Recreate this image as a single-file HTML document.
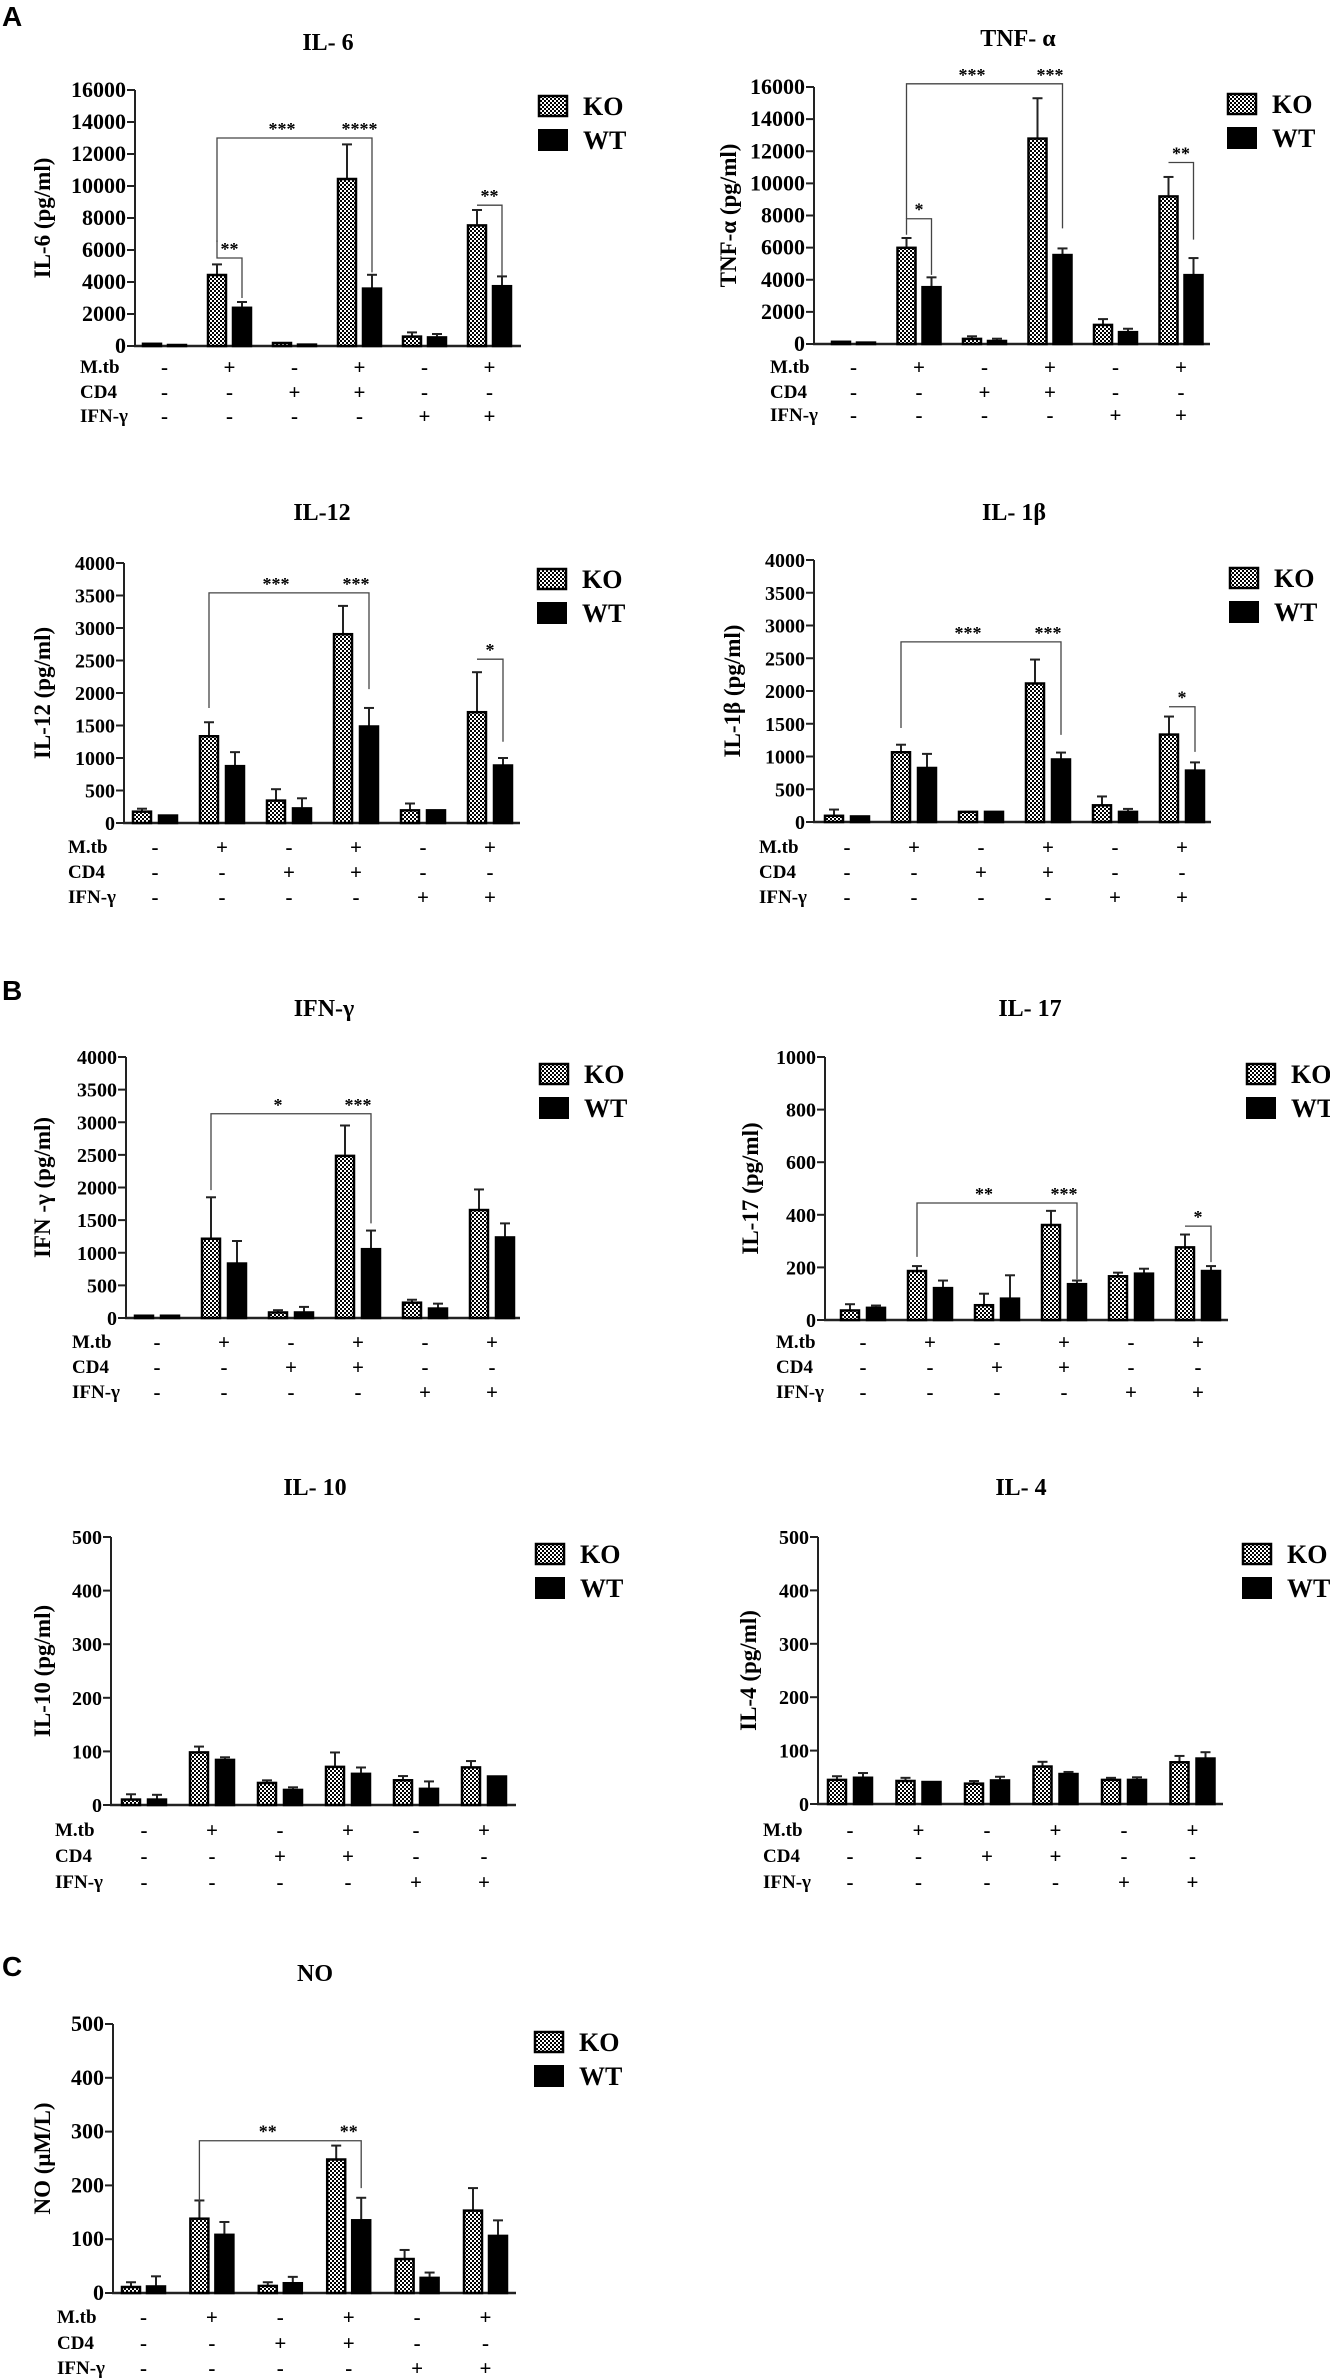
<!DOCTYPE html>
<html><head><meta charset="utf-8">
<style>
html,body{margin:0;padding:0;background:#fff;}
svg{display:block;}
text{font-family:"Liberation Serif",serif;font-weight:bold;fill:#000;}
.lt{font-family:"Liberation Sans",sans-serif;}
</style></head>
<body>
<svg id="fig" width="1330" height="2380" viewBox="0 0 1330 2380" xmlns="http://www.w3.org/2000/svg">
<defs>
<pattern id="chk" width="4" height="4" patternUnits="userSpaceOnUse">
<rect width="4" height="4" fill="#fff"/><rect width="2" height="2" fill="#000"/><rect x="2" y="2" width="2" height="2" fill="#000"/>
</pattern>
</defs>
<text class="lt" x="2" y="26" font-size="28">A</text>
<text class="lt" x="2" y="1000" font-size="28">B</text>
<text class="lt" x="2" y="1976" font-size="28">C</text>
</svg>
<script>
// ---- data ----
const groups = ["g1","g2","g3","g4","g5","g6"];
const mtbRow = ["-","+","-","+","-","+"];
const cd4Row = ["-","-","+","+","-","-"];
const ifnRow = ["-","-","-","-","+","+"];

const il6Ticks = [0,2000,4000,6000,8000,10000,12000,14000,16000];
const il6KO = [200,4500,250,10500,650,7600];
const il6KOErr = [0,600,0,2100,200,900];
const il6WT = [120,2450,150,3650,600,3800];
const il6WTErr = [0,300,0,800,150,550];
const il6Sig = [[1,0,1,1,5500,6600,3000,"**"],[1,0,3,0,13000,6500,13000,"***"],[3,0,3,1,13000,13000,4600,"****"],[5,0,5,1,8800,8800,4400,"**"]];

const tnfTicks = [0,2000,4000,6000,8000,10000,12000,14000,16000];
const tnfKO = [200,6050,380,12850,1250,9250];
const tnfKOErr = [0,550,100,2450,300,1150];
const tnfWT = [150,3600,250,5600,800,4350];
const tnfWTErr = [0,550,80,350,150,1000];
const tnfSig = [[1,0,1,1,7800,6800,4300,"*"],[1,0,3,0,16200,7800,16200,"***"],[3,0,3,1,16200,16200,7200,"***"],[5,0,5,1,11300,11300,6500,"**"]];

const il12Ticks = [0,500,1000,1500,2000,2500,3000,3500,4000];
const il12KO = [190,1350,360,2920,210,1720];
const il12KOErr = [30,200,160,420,90,600];
const il12WT = [130,890,240,1500,210,900];
const il12WTErr = [0,200,140,270,0,100];
const il12Sig = [[1,0,3,0,3540,1770,3540,"***"],[3,0,3,1,3540,3540,2060,"***"],[5,0,5,1,2520,2520,1250,"*"]];

const il1bTicks = [0,500,1000,1500,2000,2500,3000,3500,4000];
const il1bKO = [110,1080,170,2130,270,1350];
const il1bKOErr = [80,100,0,350,120,260];
const il1bWT = [100,840,170,970,170,800];
const il1bWTErr = [0,200,0,90,30,110];
const il1bSig = [[1,0,3,0,2750,1435,2750,"***"],[3,0,3,1,2750,2750,1330,"***"],[5,0,5,1,1760,1760,1070,"*"]];

const ifngTicks = [0,500,1000,1500,2000,2500,3000,3500,4000];
const ifngKO = [50,1230,100,2500,250,1670];
const ifngKOErr = [0,620,20,450,30,300];
const ifngWT = [50,850,100,1070,160,1250];
const ifngWTErr = [0,330,70,270,60,200];
const ifngSig = [[1,0,3,0,3130,1960,3130,"*"],[3,0,3,1,3130,3130,1450,"***"]];

const il17Ticks = [0,200,400,600,800,1000];
const il17KO = [40,190,60,365,170,280];
const il17KOErr = [20,15,40,50,10,45];
const il17WT = [50,125,85,140,180,190];
const il17WTErr = [5,25,85,10,15,15];
const il17Sig = [[1,0,3,0,445,240,445,"**"],[3,0,3,1,445,445,155,"***"],[5,0,5,1,357,357,220,"*"]];

const il10Ticks = [0,100,200,300,400,500];
const il10KO = [12,100,43,73,48,72];
const il10KOErr = [8,9,3,25,6,10];
const il10WT = [12,86,30,60,32,55];
const il10WTErr = [7,3,3,10,12,0];
const il10Sig = [];

const il4Ticks = [0,100,200,300,400,500];
const il4KO = [47,45,40,72,47,80];
const il4KOErr = [5,4,3,7,2,10];
const il4WT = [51,43,46,58,47,87];
const il4WTErr = [7,0,5,2,3,10];
const il4Sig = [];

const noTicks = [0,100,200,300,400,500];
const noKO = [13,140,15,250,65,155];
const noKOErr = [7,32,5,24,15,40];
const noWT = [14,110,20,137,30,108];
const noWTErr = [17,22,10,40,8,27];
const noSig = [[1,0,3,0,283,170,283,"**"],[3,0,3,1,283,283,195,"**"]];

// ---- layout ----
const svg = document.getElementById('fig');
const NS = "http://www.w3.org/2000/svg";
function mk(tag, attrs){ const e=document.createElementNS(NS,tag); for(const k in attrs) e.setAttribute(k,attrs[k]); svg.appendChild(e); return e; }

function panel(p){
  const top=p.top, zero=p.zero, max=p.ticks[p.ticks.length-1];
  const Y = v => zero - v/max*(zero-top);
  const X = (g,s) => p.ko0 + g*p.sp + s*p.wo;
  const t = mk('text',{x:p.tx,y:p.ty,'font-size':24,'text-anchor':'middle'});
  t.textContent = p.title;
  
  
  const yl = mk('text',{x:0,y:0,'font-size':p.yf||23,'text-anchor':'middle',transform:`translate(${p.ylx},${(top+zero)/2}) rotate(-90)`});
  yl.textContent = p.ylabel;
  
  
  const ya = mk('line',{x1:p.ax,y1:top,x2:p.ax,y2:zero+1,stroke:'#222','stroke-width':2});
  
  
  const xa = mk('line',{x1:p.ax-1,y1:zero,x2:p.end,y2:zero,stroke:'#222','stroke-width':2.5});
  
  
  p.ticks.forEach(v=>{
    const tk = mk('line',{x1:p.ax-8,y1:Y(v),x2:p.ax,y2:Y(v),stroke:'#222','stroke-width':2});
    
    
    const tl = mk('text',{x:p.ax-9,y:Y(v)+7,'font-size':p.tf,'text-anchor':'end'});
    tl.textContent = v;
    
    
  });
  [[p.ko,p.koe,'url(#chk)','ko'],[p.wt,p.wte,'#000','wt']].forEach((ser,s)=>{
    ser[0].forEach((v,g)=>{
      const x = X(g,s);
      const e = ser[1][g];
      if(e>0){
        const el = mk('line',{x1:x+p.bw/2,y1:Y(v+e),x2:x+p.bw/2,y2:Y(v),stroke:'#222','stroke-width':2});
        
        
        const cp = mk('line',{x1:x+p.bw/2-5,y1:Y(v+e),x2:x+p.bw/2+5,y2:Y(v+e),stroke:'#222','stroke-width':2});
        
        
      }
      const h = Math.max(zero-Y(v),2);
      const r = mk('rect',{x:x+1,y:zero-h+1,width:p.bw-2,height:h-1,fill:ser[2],stroke:'#000','stroke-width':2.5});
      
      
    });
  });
  p.sig.forEach(b=>{
    const x1 = X(b[0],b[1])+p.bw/2, x2 = X(b[2],b[3])+p.bw/2;
    const ly = Y(b[4]);
    const pl = mk('polyline',{points:`${x1},${Y(b[5])} ${x1},${ly} ${x2},${ly} ${x2},${Y(b[6])}`,fill:'none',stroke:'#444','stroke-width':1.3});
    
    
    const st = mk('text',{x:(x1+x2)/2,y:ly-3,'font-size':18,'text-anchor':'middle',fill:'#333'});
    st.textContent = b[7];
    
    
  });
  const lb1 = mk('rect',{x:p.lx+1,y:p.ly+1,width:28,height:20,fill:'url(#chk)',stroke:'#000','stroke-width':2.5});
  
  
  const lt1 = mk('text',{x:p.lx+45,y:p.ly+20,'font-size':26,'font-weight':p.lw||'bold'});
  lt1.textContent='KO';
  
  
  const lb2 = mk('rect',{x:p.lx,y:p.ly+34,width:30,height:22,fill:'#000'});
  
  
  const lt2 = mk('text',{x:p.lx+45,y:p.ly+54,'font-size':26,'font-weight':p.lw||'bold'});
  lt2.textContent='WT';
  
  
  [['M.tb',mtbRow],['CD4',cd4Row],['IFN-γ',ifnRow]].forEach((row,ri)=>{
    const ry = p.rows[ri];
    const rl = mk('text',{x:p.rlx,y:ry+6,'font-size':19});
    rl.textContent=row[0];
    
    
    row[1].forEach((s,g)=>{
      const cx = X(g,0) + (p.wo+p.bw)/2;
      const sy = mk('text',{x:cx,y:ry+7,'font-size':21,'text-anchor':'middle'});
      sy.textContent = s;
      
      
    });
  });
}

panel({id:'il6',title:'IL- 6',tx:328,ty:50,ylabel:'IL-6 (pg/ml)',ylx:50,ax:135,top:90,zero:346,end:521,ko0:142,sp:65,wo:25,bw:20,tf:22,ticks:il6Ticks,ko:il6KO,koe:il6KOErr,wt:il6WT,wte:il6WTErr,sig:il6Sig,lx:538,ly:95,rows:[367,392,416],rlx:80});
panel({id:'tnf',title:'TNF- α',tx:1018,ty:46,ylabel:'TNF-α (pg/ml)',ylx:736,ax:814,top:87,zero:344,end:1210,ko0:831,sp:65.5,wo:25,bw:20,tf:22,ticks:tnfTicks,ko:tnfKO,koe:tnfKOErr,wt:tnfWT,wte:tnfWTErr,sig:tnfSig,lx:1227,ly:93,rows:[367,392,415],rlx:770});
panel({id:'il12',title:'IL-12',tx:322,ty:520,ylabel:'IL-12 (pg/ml)',ylx:50,ax:124,top:563,zero:823,end:520,ko0:132,sp:67,wo:26,bw:20,tf:20,ticks:il12Ticks,ko:il12KO,koe:il12KOErr,wt:il12WT,wte:il12WTErr,sig:il12Sig,lx:537,ly:568,rows:[847,872,897],rlx:68});
panel({id:'il1b',title:'IL- 1β',tx:1014,ty:520,ylabel:'IL-1β (pg/ml)',ylx:740,ax:814,top:560,zero:822,end:1211,ko0:824,sp:67,wo:26,bw:20,tf:20,ticks:il1bTicks,ko:il1bKO,koe:il1bKOErr,wt:il1bWT,wte:il1bWTErr,sig:il1bSig,lx:1229,ly:567,rows:[847,872,897],rlx:759});
panel({id:'ifng',title:'IFN-γ',tx:324,ty:1016,ylabel:'IFN -γ (pg/ml)',ylx:50,ax:126,top:1057,zero:1318,end:520,ko0:134,sp:67,wo:26,bw:20,tf:20,ticks:ifngTicks,ko:ifngKO,koe:ifngKOErr,wt:ifngWT,wte:ifngWTErr,sig:ifngSig,lx:539,ly:1063,rows:[1342,1367,1392],rlx:72});
panel({id:'il17',title:'IL- 17',tx:1030,ty:1016,ylabel:'IL-17 (pg/ml)',ylx:758,ax:825,top:1057,zero:1320,end:1228,ko0:840,sp:67,wo:26,bw:20,tf:20,ticks:il17Ticks,ko:il17KO,koe:il17KOErr,wt:il17WT,wte:il17WTErr,sig:il17Sig,lx:1246,ly:1063,rows:[1342,1367,1392],rlx:776,lw:'normal'});
panel({id:'il10',title:'IL- 10',tx:315,ty:1495,ylabel:'IL-10 (pg/ml)',ylx:50,ax:111,top:1537,zero:1805,end:516,ko0:121,sp:68,wo:26,bw:20,tf:20,ticks:il10Ticks,ko:il10KO,koe:il10KOErr,wt:il10WT,wte:il10WTErr,sig:il10Sig,lx:535,ly:1543,rows:[1830,1856,1882],rlx:55});
panel({id:'il4',title:'IL- 4',tx:1021,ty:1495,ylabel:'IL-4 (pg/ml)',ylx:756,ax:818,top:1537,zero:1804,end:1223,ko0:827,sp:68.5,wo:26,bw:20,tf:20,ticks:il4Ticks,ko:il4KO,koe:il4KOErr,wt:il4WT,wte:il4WTErr,sig:il4Sig,lx:1242,ly:1543,rows:[1830,1856,1882],rlx:763});
panel({id:'no',title:'NO',tx:315,ty:1981,ylabel:'NO (μM/L)',ylx:50,ax:113,top:2024,zero:2293,end:516,ko0:121,sp:68.4,wo:25,bw:20,tf:22,ticks:noTicks,ko:noKO,koe:noKOErr,wt:noWT,wte:noWTErr,sig:noSig,lx:534,ly:2031,rows:[2317,2343,2368],rlx:57});
</script>
</body></html>
